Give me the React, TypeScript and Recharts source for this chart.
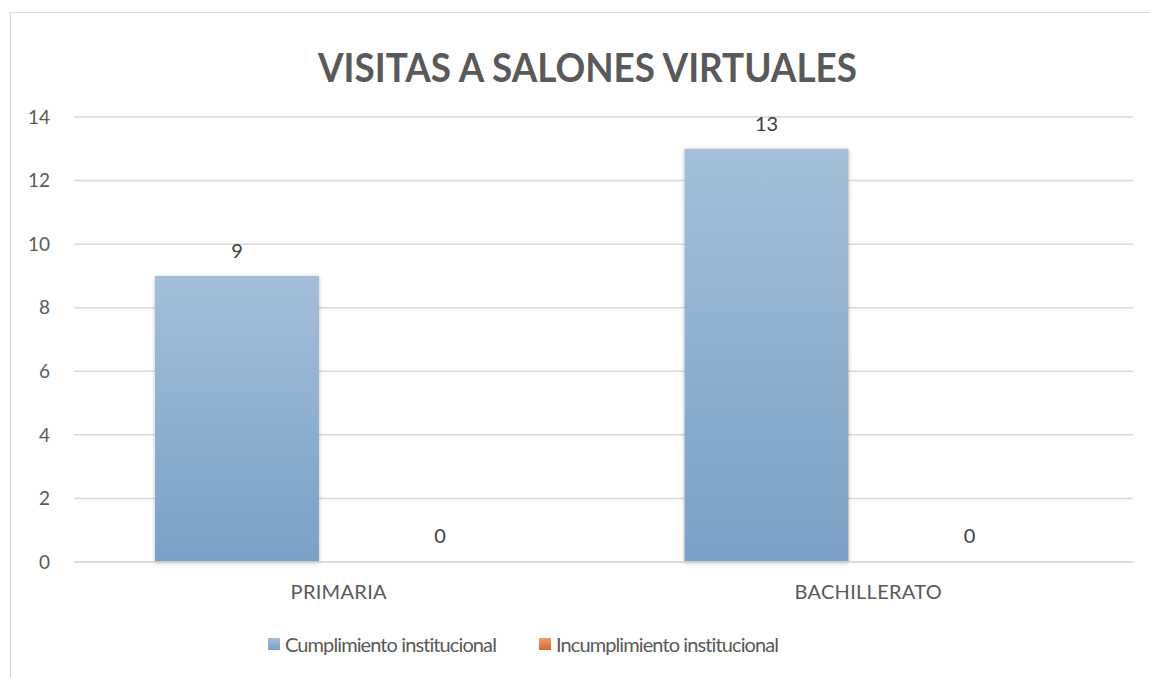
import React from 'react'
import { BarChart, Bar, XAxis, YAxis, CartesianGrid, LabelList, Rectangle } from 'recharts'

const categories = ['PRIMARIA', 'BACHILLERATO']
const cumplimiento = [9, 13]
const incumplimiento = [0, 0]
const yTicks = [0, 2, 4, 6, 8, 10, 12, 14]

const SERIES = [
  { key: 'cumplimiento', name: 'Cumplimiento institucional', top: '#a3bfd9', bottom: '#7aa1c6' },
  { key: 'incumplimiento', name: 'Incumplimiento institucional', top: '#ee9e6e', bottom: '#d9692b' },
]

const FONT = 'Lato, "Open Sans", sans-serif'
const TEXT = '#595959'

const data = categories.map((c, i) => ({
  name: c,
  cumplimiento: cumplimiento[i],
  incumplimiento: incumplimiento[i],
}))

// zero values still get a (hidden) bar so that their "0" label is drawn
const BarShape = (props: any) => {
  if (!props.value) return <g />
  return <Rectangle {...props} />
}

export default function App() {
  return (
    <div style={{ position: 'absolute', left: 0, top: 0, width: 1150, height: 678, background: '#fff', overflow: 'hidden', fontFamily: FONT }}>
      <div style={{ position: 'absolute', left: 10, top: 12, width: 1150, height: 680, border: '1.5px solid #d9d9d9', boxSizing: 'border-box' }} />

      <svg width={1150} height={110} style={{ position: 'absolute', left: 0, top: 0 }}>
        <text
          x={587.5}
          y={82}
          textAnchor="middle"
          fontFamily={FONT}
          fontWeight={700}
          fontSize={40}
          fill={TEXT}
          textLength={539}
          lengthAdjust="spacingAndGlyphs"
        >
          VISITAS A SALONES VIRTUALES
        </text>
      </svg>

      <div style={{ position: 'absolute', left: 0, top: 0 }}>
        <BarChart
          width={1150}
          height={678}
          data={data}
          margin={{ top: 117, right: 17, bottom: 76, left: 0 }}
          barSize={164}
          barGap={39}
        >
          <defs>
            {SERIES.map(s => (
              <linearGradient key={s.key} id={`grad-${s.key}`} x1="0" y1="0" x2="0" y2="1">
                <stop offset="0%" stopColor={s.top} />
                <stop offset="100%" stopColor={s.bottom} />
              </linearGradient>
            ))}
            <filter id="barShadow" x="-10%" y="-10%" width="120%" height="120%">
              <feDropShadow dx="0" dy="1" stdDeviation="2" floodColor="#000" floodOpacity="0.25" />
            </filter>
          </defs>
          <CartesianGrid vertical={false} stroke="#d9d9d9" strokeWidth={1.5} />
          <XAxis
            dataKey="name"
            axisLine={{ stroke: '#d9d9d9', strokeWidth: 1.5 }}
            tickLine={false}
            tickSize={0}
            tickMargin={23}
            height={40}
            tick={{ fill: TEXT, fontSize: 20, fontFamily: FONT, letterSpacing: 0.3 }}
          />
          <YAxis
            domain={[0, 14]}
            ticks={yTicks}
            width={74}
            axisLine={false}
            tickLine={false}
            tickSize={0}
            tickMargin={24}
            tick={{ fill: TEXT, fontSize: 19, fontFamily: FONT }}
          />
          {SERIES.map(s => (
            <Bar
              key={s.key}
              dataKey={s.key}
              name={s.name}
              fill={`url(#grad-${s.key})`}
              style={{ filter: 'url(#barShadow)' }}
              minPointSize={1}
              shape={BarShape}
              isAnimationActive={false}
            >
              <LabelList dataKey={s.key} position="top" offset={18} fill="#404040" fontSize={20} fontFamily={FONT} />
            </Bar>
          ))}
        </BarChart>
      </div>

      <div style={{ position: 'absolute', left: 268, top: 632, display: 'flex', alignItems: 'center', fontSize: 20, color: TEXT, whiteSpace: 'nowrap', letterSpacing: -0.9 }}>
        {SERIES.map((s, i) => (
          <div key={s.key} style={{ display: 'flex', alignItems: 'center', marginRight: i === 0 ? 43 : 0 }}>
            <span style={{ width: 12, height: 12, display: 'inline-block', background: `linear-gradient(${s.top}, ${s.bottom})`, marginRight: 5 }} />
            <span>{s.name}</span>
          </div>
        ))}
      </div>
    </div>
  )
}
